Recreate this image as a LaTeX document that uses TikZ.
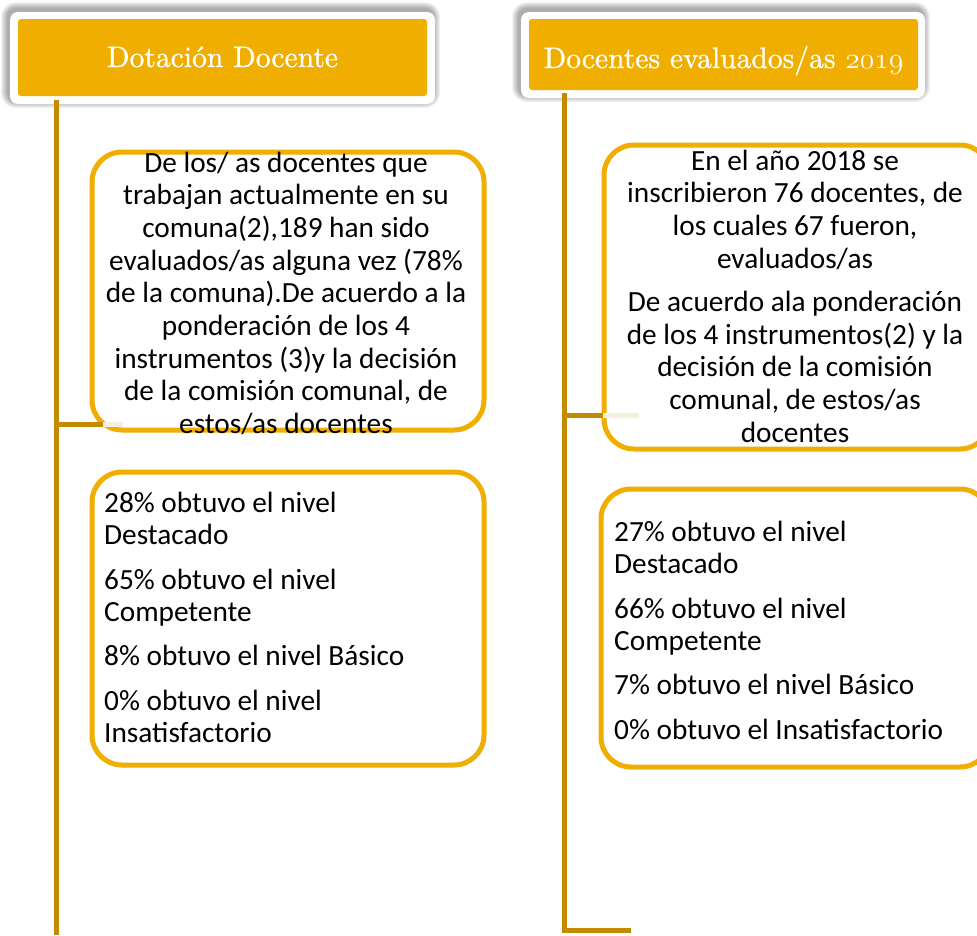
\RequirePackage{fix-cm}
\documentclass[tikz,border=0pt]{standalone}
\usepackage{fontspec}
\newfontfamily\bodyfont{Carlito}
\newfontfamily\hdrfont{lmroman10-regular.otf}[FakeBold=0.8]
\definecolor{gold}{RGB}{240,174,0}
\definecolor{linegold}{RGB}{196,138,0}
\definecolor{faintgold}{RGB}{246,238,222}
\newcommand{\osnum}[1]{\(\mathnormal{#1}\)}
\begin{document}
\begin{tikzpicture}[x=1pt,y=-1pt,
  hdrouter/.style={fill=white, rounded corners=8pt, inner sep=0pt},
  hdrinner/.style={fill=gold, rounded corners=3pt, inner sep=0pt},
  hdrtext/.style={text=white, inner sep=0pt, anchor=base, font=\hdrfont\fontsize{29.6}{34}\selectfont},
  infobox/.style={draw=gold, line width=5pt, rounded corners=30pt, inner sep=0pt},
  trunk/.style={draw=linegold, line width=5pt},
  faintline/.style={draw=faintgold, line width=5pt},
  bodytext/.style={inner sep=0pt, text=black, font=\bodyfont\fontsize{29.3}{32.7}\selectfont}]
\useasboundingbox (0,0) rectangle (977,935);
\clip (0,0) rectangle (977,935);
\fill[white] (0,0) rectangle (977,935);
% header shadows
\foreach \i in {1,...,7}{
  \fill[black, opacity=0.05, rounded corners=8pt+\i pt] (10-\i-2,12-\i-3) rectangle (435+\i-2,104+\i-3);
  \fill[black, opacity=0.05, rounded corners=8pt+\i pt] (521-\i-2,12-\i-3) rectangle (925+\i-2,98+\i-3);
}
% headers
\node[hdrouter, minimum width=425pt, minimum height=92pt] (h1out) at (222.5,58) {};
\node[hdrinner, minimum width=409pt, minimum height=77pt] (h1in) at (222.5,57.5) {};
\node[hdrtext] (h1txt) at (222.5,67) {Dotación Docente};
\node[hdrouter, minimum width=404pt, minimum height=86pt] (h2out) at (723,55) {};
\node[hdrinner, minimum width=389pt, minimum height=71pt] (h2in) at (723.5,54.5) {};
\node[hdrtext] (h2txt) at (723.5,68) {Docentes evaluados/as \osnum{2019}};
% boxes
\node[infobox, minimum width=392pt, minimum height=278pt] (b1) at (288,291) {};
\node[infobox, minimum width=392pt, minimum height=293pt] (b2) at (288,618.5) {};
\node[infobox, minimum width=386pt, minimum height=304pt] (b3) at (797,297) {};
\node[infobox, minimum width=389pt, minimum height=278pt] (b4) at (795.5,628) {};
% trunks and branches
\coordinate (ltop) at (56,100);
\coordinate (lbot) at (56,935);
\coordinate (lbr) at (56,424);
\coordinate (lbrend) at (103,424);
\coordinate (lfaint) at (123,424);
\coordinate (rtop) at (564.5,93);
\coordinate (rbot) at (564.5,930);
\coordinate (rend) at (631,930);
\coordinate (rbr) at (564.5,415);
\coordinate (rbrend) at (603,415);
\coordinate (rfaint) at (639,415);
\draw[trunk] (ltop) -- (lbot);
\draw[trunk] (lbr) -- (lbrend);
\draw[faintline] (lbrend) -- (lfaint);
\draw[trunk] (rtop) -- (rbot) -- (rend);
\draw[trunk] (rbr) -- (rbrend);
\draw[faintline] (rbrend) -- (rfaint);
% texts
\node[bodytext, align=center, anchor=north] (t1) at (286,149) {\strut De los/ as docentes que\\ trabajan actualmente en su\\ comuna(2),189 han sido\\ evaluados/as alguna vez (78\%\\ de la comuna).De acuerdo a la\\ ponderación de los 4\\ instrumentos (3)y la decisión\\ de la comisión comunal, de\\ estos/as docentes};
\node[bodytext, align=left, anchor=north west] (t2) at (104,489) {\strut 28\% obtuvo el nivel\\ Destacado\\[11.5pt] 65\% obtuvo el nivel\\ Competente\\[11.5pt] 8\% obtuvo el nivel Básico\\[11.5pt] 0\% obtuvo el nivel\\ Insatisfactorio};
\node[bodytext, align=center, anchor=north] (t3) at (795,147) {\strut En el año 2018 se\\ inscribieron 76 docentes, de\\ los cuales 67 fueron,\\ evaluados/as\\[10.5pt] De acuerdo ala ponderación\\ de los 4 instrumentos(2) y la\\ decisión de la comisión\\ comunal, de estos/as\\ docentes};
\node[bodytext, align=left, anchor=north west] (t4) at (614,518) {\strut 27\% obtuvo el nivel\\ Destacado\\[11.5pt] 66\% obtuvo el nivel\\ Competente\\[11.5pt] 7\% obtuvo el nivel Básico\\[11.5pt] 0\% obtuvo el Insatisfactorio};
\end{tikzpicture}
\end{document}
